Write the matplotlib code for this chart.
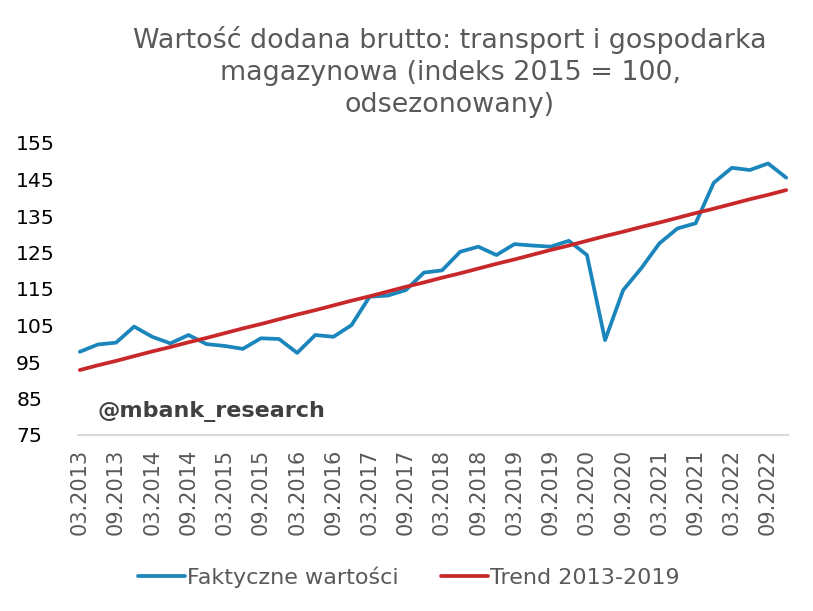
import matplotlib
matplotlib.use("Agg")
import matplotlib.pyplot as plt

quarters = [f"{m}.{y}" for y in range(2013, 2023) for m in ("03", "06", "09", "12")]
actual = [97.8, 99.8, 100.3, 104.7, 101.9, 100.1, 102.4, 99.9, 99.4, 98.6,
          101.5, 101.3, 97.5, 102.4, 101.9, 105.1, 112.9, 113.2, 114.7, 119.5,
          120.1, 125.2, 126.6, 124.3, 127.3, 126.9, 126.6, 128.2, 124.3, 101.0,
          114.7, 120.7, 127.5, 131.6, 133.0, 144.1, 148.2, 147.6, 149.4, 145.5]
trend = [92.8, 94.1, 95.3, 96.6, 97.9, 99.1, 100.4, 101.6, 102.9, 104.2,
         105.4, 106.7, 108.0, 109.2, 110.5, 111.8, 113.0, 114.3, 115.6, 116.8,
         118.1, 119.3, 120.6, 121.9, 123.1, 124.4, 125.7, 126.9, 128.2, 129.5,
         130.7, 132.0, 133.2, 134.5, 135.8, 137.0, 138.3, 139.6, 140.8, 142.1]
yticks = [75, 85, 95, 105, 115, 125, 135, 145, 155]
title = "Wartość dodana brutto: transport i gospodarka\nmagazynowa (indeks 2015 = 100,\nodsezonowany)"

fig = plt.figure(figsize=(8.13, 6.11), dpi=100)
ax = fig.add_axes([78/813, 1-435/611, 710/813, 292/611])
x = list(range(len(quarters)))
ax.plot(x, actual, color="#1b86bb", lw=2.7, label="Faktyczne wartości", solid_capstyle="round")
ax.plot(x, trend, color="#c9282b", lw=2.7, label="Trend 2013-2019", solid_capstyle="round")

ax.set_ylim(75, 155)
ax.set_xlim(-0.1, len(quarters) - 0.9)
ax.set_yticks(yticks)
ax.set_yticklabels([str(v) for v in yticks], fontsize=14.7, color="#000000", ha="left")
ax.set_xticks(x[::2])
ax.set_xticklabels(quarters[::2], rotation=90, fontsize=15, color="#595959")
for s in ("top", "right", "left"):
    ax.spines[s].set_visible(False)
ax.spines["bottom"].set_color("#d9d9d9")
ax.spines["bottom"].set_linewidth(1.5)
ax.tick_params(axis="both", length=0)
ax.tick_params(axis="y", pad=44.5)
ax.tick_params(axis="x", pad=10)

fig.text(450/813, 1-26/611, title, ha="center", va="top", fontsize=19.4,
         color="#595959", linespacing=1.29)
ax.text(97/813, 1-411/611, "@mbank_research", transform=fig.transFigure,
        fontsize=16, fontweight="bold", color="#404040", va="center", ha="left")

leg = fig.legend(loc="center", bbox_to_anchor=(409/813, 1-577/611), ncol=2,
                 frameon=False, fontsize=16, handlelength=2.1, handletextpad=0.1,
                 columnspacing=1.9)
for t in leg.get_texts():
    t.set_color("#595959")

fig.savefig("out.png", dpi=100, facecolor="white")
